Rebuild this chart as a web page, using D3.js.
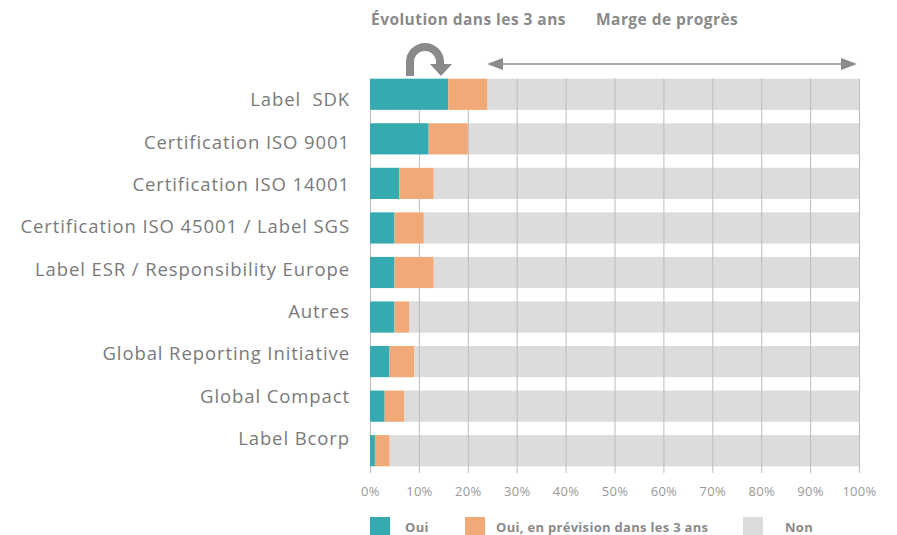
<!DOCTYPE html>
<html>
<head>
<meta charset="utf-8">
<script src="https://cdn.jsdelivr.net/npm/d3@7"></script>
<style>
  body { margin: 0; background: #fff; }
  svg { display: block; font-family: "Open Sans", sans-serif; }
</style>
</head>
<body>
<div id="wrapper"></div>
<script>
// données (en %)
const categories = [
  "Label  SDK",
  "Certification ISO 9001",
  "Certification ISO 14001",
  "Certification ISO 45001 / Label SGS",
  "Label ESR / Responsibility Europe",
  "Autres",
  "Global Reporting Initiative",
  "Global Compact",
  "Label Bcorp"
];
const oui = [16, 12, 6, 5, 5, 5, 4, 3, 1];
const prevision = [8, 8, 7, 6, 8, 3, 5, 4, 3];
const non = oui.map((d, i) => 100 - d - prevision[i]);
const seriesNames = ["Oui", "Oui, en prévision dans les 3 ans", "Non"];
const tickValues = [0, 10, 20, 30, 40, 50, 60, 70, 80, 90, 100];

const colors = ["#35abb1", "#f2a978", "#dcdcdc"];

function draw() {
  const width = 897;
  const height = 535;
  const left = 370, right = 859, top = 72, bottom = 473;

  const svg = d3.select("#wrapper")
    .append("svg")
      .attr("width", width)
      .attr("height", height);

  const x = d3.scaleLinear().domain([0, 100]).range([left, right]);
  const y = d3.scaleBand().domain(categories).range([top, bottom])
    .paddingInner(0.3).paddingOuter(0.15);
  // les libellés sont un peu plus serrés que les barres dans l'original
  const yLabel = d3.scalePoint().domain(categories).range([100, 438.5]);

  const rows = categories.map((c, i) => ({ cat: c, vals: [oui[i], prevision[i], non[i]] }));
  const stack = d3.stack().keys([0, 1, 2]).value((d, k) => d.vals[k]);
  const layers = stack(rows);

  // barres grises "Non" en dessous
  svg.append("g")
    .selectAll("rect")
    .data(layers[2])
    .enter()
    .append("rect")
      .attr("x", d => x(d[0]))
      .attr("y", d => y(d.data.cat))
      .attr("width", d => x(d[1]) - x(d[0]))
      .attr("height", y.bandwidth())
      .attr("fill", colors[2]);

  // grille verticale
  const gridTop = y(categories[0]);
  const grid = svg.append("g")
    .attr("transform", "translate(0," + bottom + ")")
    .call(d3.axisBottom(x).tickValues(tickValues).tickSize(-(bottom - gridTop)).tickFormat(""));
  grid.select(".domain").remove();
  grid.selectAll(".tick line").attr("stroke", "#bcbcbc").attr("stroke-width", 1);

  // barres Oui + prévision
  [0, 1].forEach(k => {
    svg.append("g")
      .selectAll("rect")
      .data(layers[k])
      .enter()
      .append("rect")
        .attr("x", d => x(d[0]))
        .attr("y", d => y(d.data.cat))
        .attr("width", d => x(d[1]) - x(d[0]))
        .attr("height", y.bandwidth())
        .attr("fill", colors[k]);
  });

  // labels des catégories
  const yAxis = svg.append("g")
    .attr("transform", "translate(" + left + ",0)")
    .call(d3.axisLeft(yLabel).tickSize(0).tickPadding(20));
  yAxis.select(".domain").remove();
  yAxis.selectAll("text")
    .attr("font-family", "'Open Sans', sans-serif")
    .attr("font-size", 18.5)
    .attr("letter-spacing", 0.9)
    .attr("fill", "#7a7a7a")
    .style("white-space", "pre");

  // labels des % en bas
  const xAxis = svg.append("g")
    .attr("transform", "translate(0," + bottom + ")")
    .call(d3.axisBottom(x).tickValues(tickValues).tickSize(0).tickPadding(14).tickFormat(d => d + "%"));
  xAxis.select(".domain").remove();
  xAxis.selectAll("text")
    .attr("font-family", "'Open Sans', sans-serif")
    .attr("font-size", 13)
    .attr("letter-spacing", 0.3)
    .attr("fill", "#999");

  // titres en haut
  const grey = "#8a8a8a";
  svg.append("text")
    .attr("x", 371).attr("y", 25)
    .attr("font-size", 15.5).attr("font-weight", "bold").attr("fill", grey)
    .attr("letter-spacing", 0.45)
    .text("Évolution dans les 3 ans");
  svg.append("text")
    .attr("x", 596).attr("y", 25)
    .attr("font-size", 15.5).attr("font-weight", "bold").attr("fill", grey)
    .attr("letter-spacing", 0.45)
    .text("Marge de progrès");

  // flèche double "marge de progrès"
  const ay = 64;
  svg.append("line")
    .attr("x1", 500).attr("x2", 845)
    .attr("y1", ay).attr("y2", ay)
    .attr("stroke", grey).attr("stroke-width", 1.5);
  svg.append("path")
    .attr("d", "M487," + ay + "L503," + (ay - 6) + "L503," + (ay + 6) + "Z")
    .attr("fill", grey);
  svg.append("path")
    .attr("d", "M857," + ay + "L841," + (ay - 6) + "L841," + (ay + 6) + "Z")
    .attr("fill", grey);

  // flèche courbe "évolution"
  const p = d3.path();
  p.moveTo(410, 76);
  p.lineTo(410, 62);
  p.arc(425, 62, 15, Math.PI, 2 * Math.PI);
  p.lineTo(440, 66);
  svg.append("path")
    .attr("d", p.toString())
    .attr("fill", "none")
    .attr("stroke", grey)
    .attr("stroke-width", 8);
  svg.append("path")
    .attr("d", "M430,64L452,64L441,76Z")
    .attr("fill", grey);

  // légende
  const legendX = [370, 465, 743];
  const textX = [35, 31, 42];
  const legend = svg.append("g")
    .selectAll("g")
    .data(seriesNames)
    .enter()
    .append("g")
      .attr("transform", (d, i) => "translate(" + legendX[i] + ",517)");
  legend.append("rect")
    .attr("width", 20).attr("height", 19)
    .attr("fill", (d, i) => colors[i]);
  legend.append("text")
    .attr("x", (d, i) => textX[i])
    .attr("y", 15)
    .attr("font-size", 13).attr("font-weight", "bold").attr("fill", grey)
    .attr("letter-spacing", 0.3)
    .text(d => d);
}
draw();
</script>
</body>
</html>
